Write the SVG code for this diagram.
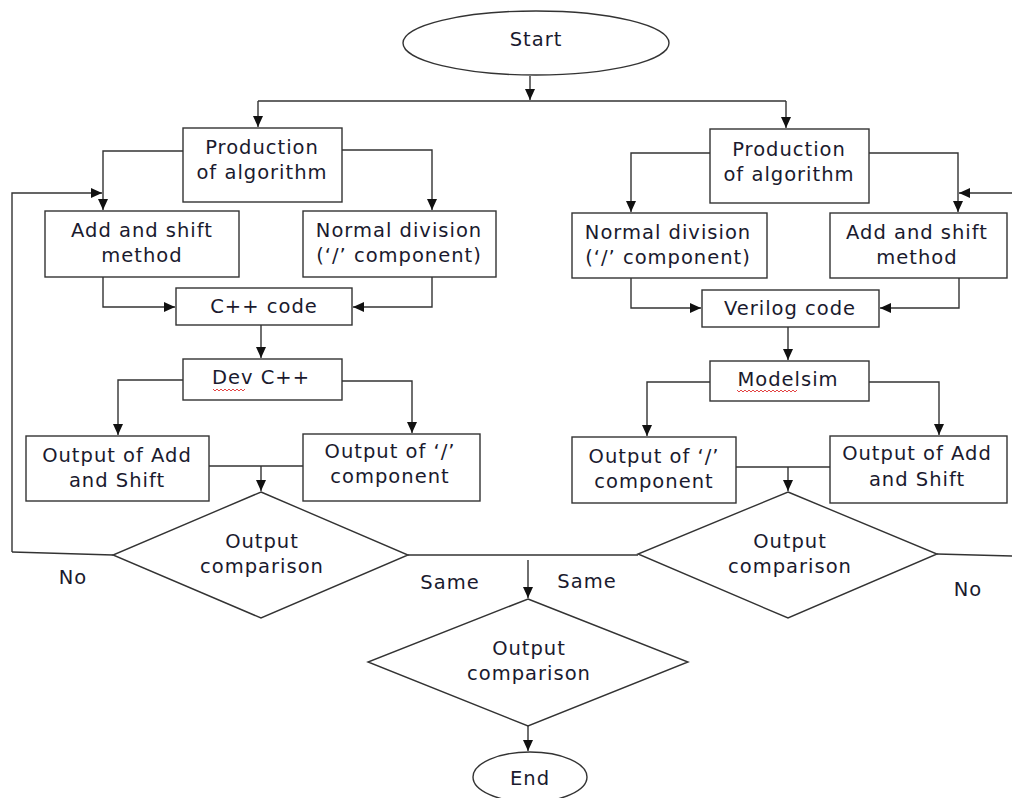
<svg xmlns="http://www.w3.org/2000/svg" width="1012" height="798" viewBox="0 0 1012 798">
<style>
.s{fill:#fff;stroke:#333;stroke-width:1.4}
.c{fill:none;stroke:#333;stroke-width:1.4}
.t{font-family:"DejaVu Sans",Verdana,sans-serif;font-size:19.5px;letter-spacing:1px;fill:#1a1a2e;text-anchor:middle}
.sq{fill:none;stroke:#e03030;stroke-width:0.9}
</style>
<defs>
<marker id="a" markerUnits="userSpaceOnUse" markerWidth="12" markerHeight="10" refX="11" refY="5" orient="auto">
<path d="M0,0 L11,5 L0,10 Z" fill="#111"/>
</marker>
</defs>
<rect width="1012" height="798" fill="#fff"/>
<g id="connectors">
<path class="c" d="M530,76 V100" marker-end="url(#a)"/>
<path class="c" d="M258,101 H786"/>
<path class="c" d="M258,101 V127" marker-end="url(#a)"/>
<path class="c" d="M786,101 V128" marker-end="url(#a)"/>
<path class="c" d="M183,151 H103 V210" marker-end="url(#a)"/>
<path class="c" d="M342,150 H432 V210" marker-end="url(#a)"/>
<path class="c" d="M12,552 V193 H102" marker-end="url(#a)"/>
<path class="c" d="M12,552 L113,555"/>
<path class="c" d="M103,277 V307 H175" marker-end="url(#a)"/>
<path class="c" d="M432,277 V307 H353" marker-end="url(#a)"/>
<path class="c" d="M261,325 V358" marker-end="url(#a)"/>
<path class="c" d="M183,380 H118 V435" marker-end="url(#a)"/>
<path class="c" d="M342,381 H412 V433" marker-end="url(#a)"/>
<path class="c" d="M209,466 H303"/>
<path class="c" d="M261,466 V491" marker-end="url(#a)"/>
<path class="c" d="M408,555 H638"/>
<path class="c" d="M528,560 V598" marker-end="url(#a)"/>
<path class="c" d="M528,726 V751" marker-end="url(#a)"/>
<path class="c" d="M710,153 H631 V212" marker-end="url(#a)"/>
<path class="c" d="M869,153 H958 V212" marker-end="url(#a)"/>
<path class="c" d="M1012,193 H959" marker-end="url(#a)"/>
<path class="c" d="M631,278 V308 H701" marker-end="url(#a)"/>
<path class="c" d="M959,278 V308 H880" marker-end="url(#a)"/>
<path class="c" d="M788,327 V360" marker-end="url(#a)"/>
<path class="c" d="M710,382 H647 V436" marker-end="url(#a)"/>
<path class="c" d="M869,382 H939 V435" marker-end="url(#a)"/>
<path class="c" d="M736,467 H830"/>
<path class="c" d="M788,467 V491" marker-end="url(#a)"/>
<path class="c" d="M937,554 L1012,556"/>
</g>
<g id="start">
<ellipse class="s" cx="536" cy="43" rx="133" ry="32"/>
<text class="t" x="536" y="46">Start</text>
</g>
<g id="prod-left">
<rect class="s" x="183" y="128" width="159" height="74"/>
<text class="t" x="262" y="154">Production</text>
<text class="t" x="262" y="179">of algorithm</text>
</g>
<g id="addshift-left">
<rect class="s" x="45" y="211" width="194" height="66"/>
<text class="t" x="142" y="237">Add and shift</text>
<text class="t" x="142" y="262">method</text>
</g>
<g id="normdiv-left">
<rect class="s" x="303" y="211" width="193" height="66"/>
<text class="t" x="399" y="237">Normal division</text>
<text class="t" x="399" y="262">(‘/’ component)</text>
</g>
<g id="cpp">
<rect class="s" x="176" y="288" width="176" height="37"/>
<text class="t" x="264" y="313">C++ code</text>
</g>
<g id="devcpp">
<rect class="s" x="183" y="359" width="159" height="41"/>
<text class="t" x="261" y="384">Dev C++</text>
<path class="sq" d="M213,389 l2,2 l2,-2 l2,2 l2,-2 l2,2 l2,-2 l2,2 l2,-2 l2,2 l2,-2 l2,2 l2,-2 l2,2 l2,-2 l2,2 l2,-2"/>
</g>
<g id="outadd-left">
<rect class="s" x="26" y="436" width="183" height="65"/>
<text class="t" x="117" y="462">Output of Add</text>
<text class="t" x="117" y="487">and Shift</text>
</g>
<g id="outdiv-left">
<rect class="s" x="303" y="434" width="177" height="67"/>
<text class="t" x="390" y="458">Output of ‘/’</text>
<text class="t" x="390" y="483">component</text>
</g>
<g id="cmp-left">
<polygon class="s" points="261,492 408,555 261,618 113,555"/>
<text class="t" x="262" y="548">Output</text>
<text class="t" x="262" y="573">comparison</text>
</g>
<g id="prod-right">
<rect class="s" x="710" y="129" width="159" height="74"/>
<text class="t" x="789" y="156">Production</text>
<text class="t" x="789" y="181">of algorithm</text>
</g>
<g id="normdiv-right">
<rect class="s" x="572" y="213" width="195" height="65"/>
<text class="t" x="668" y="239">Normal division</text>
<text class="t" x="668" y="264">(‘/’ component)</text>
</g>
<g id="addshift-right">
<rect class="s" x="830" y="213" width="177" height="65"/>
<text class="t" x="917" y="239">Add and shift</text>
<text class="t" x="917" y="264">method</text>
</g>
<g id="verilog">
<rect class="s" x="702" y="290" width="177" height="37"/>
<text class="t" x="790" y="315">Verilog code</text>
</g>
<g id="modelsim">
<rect class="s" x="710" y="361" width="159" height="40"/>
<text class="t" x="788" y="386">Modelsim</text>
<path class="sq" d="M737,390 l2,2 l2,-2 l2,2 l2,-2 l2,2 l2,-2 l2,2 l2,-2 l2,2 l2,-2 l2,2 l2,-2 l2,2 l2,-2 l2,2 l2,-2 l2,2 l2,-2 l2,2 l2,-2 l2,2 l2,-2 l2,2 l2,-2 l2,2 l2,-2 l2,2 l2,-2 l2,2 l2,-2"/>
</g>
<g id="outdiv-right">
<rect class="s" x="572" y="437" width="164" height="66"/>
<text class="t" x="654" y="463">Output of ‘/’</text>
<text class="t" x="654" y="488">component</text>
</g>
<g id="outadd-right">
<rect class="s" x="830" y="436" width="177" height="67"/>
<text class="t" x="917" y="460">Output of Add</text>
<text class="t" x="917" y="486">and Shift</text>
</g>
<g id="cmp-right">
<polygon class="s" points="788,492 937,554 788,618 638,554"/>
<text class="t" x="790" y="548">Output</text>
<text class="t" x="790" y="573">comparison</text>
</g>
<g id="cmp-final">
<polygon class="s" points="528,599 688,662 528,726 368,662"/>
<text class="t" x="529" y="655">Output</text>
<text class="t" x="529" y="680">comparison</text>
</g>
<g id="end">
<ellipse class="s" cx="530" cy="777" rx="57" ry="25"/>
<text class="t" x="530" y="785">End</text>
</g>
<g id="labels">
<text class="t" x="73" y="584">No</text>
<text class="t" x="450" y="589">Same</text>
<text class="t" x="587" y="588">Same</text>
<text class="t" x="968" y="596">No</text>
</g>
</svg>
